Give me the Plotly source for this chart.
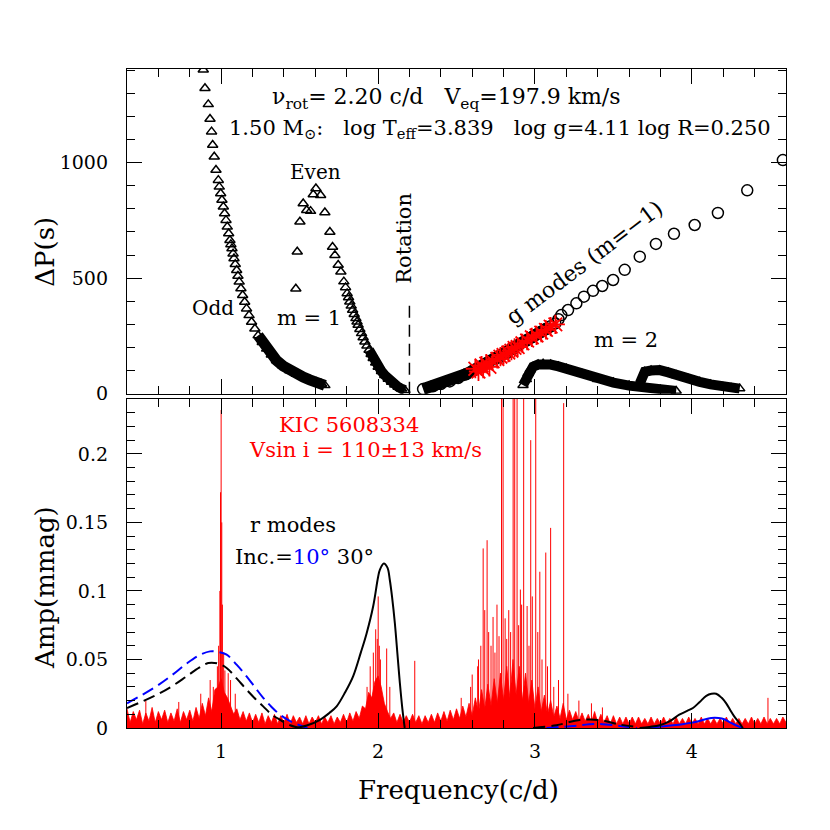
import numpy as np
import plotly.graph_objects as go

# ---------------- top panel: period spacings ----------------
# r modes, m = 1, odd
odd_freq = [0.886, 0.897, 0.918, 0.929, 0.939, 0.946, 0.956, 0.967, 0.982, 0.988,
            0.997, 1.005, 1.014, 1.022, 1.031, 1.039, 1.048, 1.056, 1.062, 1.069,
            1.076, 1.082, 1.090, 1.099, 1.107, 1.115, 1.126, 1.137, 1.150, 1.162,
            1.178, 1.194, 1.215, 1.236, 1.262, 1.290, 1.320, 1.353, 1.395, 1.438,
            1.480, 1.523, 1.565, 1.608, 1.640, 1.661]
odd_dp = [1402, 1322, 1252, 1189, 1134, 1076, 1025, 968, 924, 895,
          866, 838, 809, 780, 751, 722, 693, 664, 646, 628,
          606, 585, 560, 534, 509, 484, 455, 426, 397, 368,
          339, 310, 281, 252, 223, 194, 168, 144, 120, 100,
          85, 72, 60, 50, 42, 36]

# r modes, m = 1, even
even_freq = [1.476, 1.485, 1.502, 1.523, 1.545, 1.570, 1.587, 1.604, 1.634, 1.661,
             1.693, 1.710, 1.725, 1.746, 1.763, 1.782, 1.793, 1.803, 1.812, 1.820,
             1.829, 1.838, 1.848, 1.859, 1.866, 1.873, 1.884, 1.895, 1.905, 1.916,
             1.929, 1.943, 1.956, 1.969, 1.985, 2.001, 2.022, 2.043, 2.065, 2.086,
             2.107, 2.128, 2.150, 2.171]
even_dp = [454, 614, 744, 823, 794, 790, 862, 888, 859, 784,
           700, 635, 599, 557, 528, 485, 460, 434, 416, 398,
           380, 362, 344, 326, 311, 297, 279, 261, 243, 225,
           207, 189, 171, 153, 134, 116, 97, 80, 64, 51,
           39, 29, 21, 15]

# prograde g modes (m = -1)
gm_freq = [2.287, 2.35, 2.40, 2.457, 2.51, 2.56, 2.606, 2.65, 2.70, 2.745,
           2.776, 2.82, 2.86, 2.90, 2.946, 2.98, 3.01, 3.04, 3.07, 3.10,
           3.13, 3.15, 3.168, 3.211, 3.264, 3.312, 3.37, 3.429, 3.498, 3.572,
           3.668, 3.771, 3.886, 4.018, 4.166, 4.353, 4.58]
gm_dp = [20, 32, 42, 53, 68, 84, 100, 116, 133, 150,
         158, 176, 194, 212, 230, 244, 256, 268, 280, 292,
         304, 322, 340, 362, 391, 420, 445, 466, 492, 536,
         593, 648, 692, 730, 782, 880, 1011]

# observed modes
obs_freq = [2.62, 2.64, 2.66, 2.67, 2.69, 2.71, 2.73, 2.76, 2.78, 2.80, 2.83,
            2.85, 2.87, 2.89, 2.92, 2.95, 2.98, 3.01, 3.04, 3.07, 3.10, 3.13]
obs_dp = [108, 96, 122, 108, 130, 116, 140, 150, 160, 168, 178,
          186, 198, 202, 218, 230, 244, 252, 264, 276, 290, 300]

# m = 2 branches
m2a_freq = [2.924, 2.945, 2.956, 2.970, 2.988, 3.02, 3.052, 3.10, 3.15, 3.20,
            3.30, 3.40, 3.50, 3.60, 3.70, 3.80, 3.90]
m2a_dp = [37, 62, 88, 105, 117, 126, 130, 126, 118, 108,
          85, 63, 48, 35, 25, 17, 12]
m2b_freq = [3.668, 3.70, 3.74, 3.795, 3.85, 3.90, 3.975, 4.05, 4.12, 4.198, 4.25, 4.305]
m2b_dp = [44, 95, 100, 102, 92, 80, 65, 51, 40, 29, 25, 22]

nu_rot = 2.20

# ---------------- bottom panel: amplitude spectrum ----------------
noise_amp = [
    0.014, 0.004, 0.012, 0.006, 0.013, 0.003, 0.011, 0.005, 0.015, 0.004,
    0.012, 0.006, 0.013, 0.004, 0.011, 0.005, 0.014, 0.004, 0.012, 0.006,
    0.013, 0.005, 0.015, 0.007, 0.018, 0.009, 0.022, 0.012, 0.028, 0.030,
    0.036, 0.026, 0.022, 0.016, 0.010, 0.014, 0.006, 0.012, 0.005, 0.011,
    0.004, 0.010, 0.004, 0.011, 0.003, 0.009, 0.004, 0.010, 0.003, 0.009,
    0.004, 0.010, 0.003, 0.009, 0.004, 0.008, 0.003, 0.009, 0.003, 0.008,
    0.004, 0.009, 0.003, 0.008, 0.004, 0.009, 0.003, 0.008, 0.004, 0.010,
    0.004, 0.011, 0.005, 0.012, 0.007, 0.016, 0.014, 0.026, 0.022, 0.034,
    0.038, 0.030, 0.018, 0.012, 0.007, 0.011, 0.004, 0.010, 0.004, 0.009,
    0.004, 0.010, 0.004, 0.009, 0.003, 0.009, 0.004, 0.010, 0.004, 0.011,
    0.005, 0.012, 0.005, 0.013, 0.006, 0.014, 0.007, 0.016, 0.008, 0.018,
    0.009, 0.022, 0.011, 0.028, 0.014, 0.032, 0.016, 0.036, 0.018, 0.040,
    0.020, 0.045, 0.022, 0.050, 0.024, 0.045, 0.020, 0.040, 0.018, 0.035,
    0.014, 0.030, 0.012, 0.024, 0.010, 0.020, 0.008, 0.016, 0.007, 0.018,
    0.006, 0.013, 0.006, 0.012, 0.005, 0.011, 0.005, 0.010, 0.004, 0.012,
    0.004, 0.010, 0.004, 0.009, 0.003, 0.009, 0.003, 0.008, 0.003, 0.008,
    0.003, 0.008, 0.003, 0.008, 0.003, 0.007, 0.003, 0.008, 0.003, 0.007,
    0.003, 0.008, 0.003, 0.007, 0.003, 0.008, 0.003, 0.007, 0.003, 0.008,
    0.003, 0.007, 0.003, 0.008, 0.003, 0.007, 0.003, 0.007, 0.003, 0.007,
    0.003, 0.008, 0.003, 0.007, 0.003, 0.007, 0.003, 0.007, 0.003, 0.008,
    0.003, 0.007, 0.003, 0.008, 0.003, 0.007, 0.003, 0.007, 0.003, 0.008,
    0.004,
]
noise_freq = 0.40 + 0.02 * np.arange(len(noise_amp))

peak_freq = [0.52, 0.73, 0.87, 0.93, 0.95, 0.976, 0.984, 0.992, 0.996, 1.000,
             1.004, 1.008, 1.016, 1.024, 1.045, 1.06, 1.09,
             1.93, 1.95, 1.97, 1.985, 1.995, 2.001, 2.008, 2.015, 2.055, 2.075,
             2.234, 2.53, 2.59, 2.60, 2.635, 2.64, 2.655, 2.670, 2.680, 2.695,
             2.705, 2.72, 2.733, 2.745, 2.758, 2.771, 2.787, 2.797, 2.81, 2.82,
             2.833, 2.845, 2.861, 2.871, 2.886, 2.896, 2.907, 2.915, 2.928, 2.95,
             2.962, 2.973, 2.983, 3.005, 3.018, 3.031, 3.045, 3.069, 3.08, 3.10,
             3.12, 3.15, 3.183, 3.21, 3.28, 3.36, 3.43, 4.485]
peak_amp = [0.020, 0.019, 0.025, 0.035, 0.030, 0.045, 0.060, 0.100, 0.172, 0.232,
            0.150, 0.090, 0.055, 0.042, 0.040, 0.035, 0.025,
            0.030, 0.045, 0.055, 0.072, 0.065, 0.096, 0.060, 0.050, 0.058, 0.030,
            0.049, 0.022, 0.030, 0.039, 0.045, 0.050, 0.060, 0.131, 0.086, 0.137,
            0.070, 0.060, 0.081, 0.055, 0.090, 0.067, 0.300, 0.300, 0.080, 0.065,
            0.086, 0.070, 0.300, 0.300, 0.300, 0.075, 0.101, 0.090, 0.300, 0.089,
            0.060, 0.210, 0.096, 0.300, 0.070, 0.114, 0.050, 0.128, 0.045, 0.146,
            0.030, 0.035, 0.237, 0.025, 0.020, 0.018, 0.015, 0.022]

# r-mode models (black 30 deg, blue 10 deg)
odd30_freq = [0.40, 0.568, 0.68, 0.78, 0.86, 0.918, 0.98, 1.035, 1.10, 1.162,
              1.22, 1.268, 1.32, 1.375, 1.44, 1.50]
odd30_amp = [0.0146, 0.023, 0.030, 0.0377, 0.044, 0.0474, 0.047, 0.0438, 0.036, 0.028,
             0.021, 0.0158, 0.010, 0.006, 0.002, 0.0]
odd10_freq = [0.40, 0.568, 0.68, 0.78, 0.86, 0.929, 0.98, 1.035, 1.10, 1.162,
              1.22, 1.268, 1.32, 1.375, 1.44, 1.50, 1.55]
odd10_amp = [0.018, 0.029, 0.038, 0.047, 0.053, 0.0559, 0.0555, 0.0535, 0.046, 0.0377,
             0.029, 0.022, 0.0155, 0.0097, 0.005, 0.002, 0.0]
even30_freq = [1.481, 1.55, 1.63, 1.69, 1.736, 1.79, 1.841, 1.89, 1.927, 1.969,
               2.00, 2.012, 2.037, 2.06, 2.075, 2.09, 2.107, 2.125, 2.139, 2.155, 2.17]
even30_amp = [0.0, 0.002, 0.006, 0.011, 0.0158, 0.026, 0.0377, 0.055, 0.069, 0.0888,
              0.110, 0.1156, 0.120, 0.117, 0.108, 0.095, 0.0766, 0.052, 0.0328, 0.014, 0.0]
odd30b_freq = [2.988, 3.136, 3.285, 3.413, 3.54, 3.667]
odd30b_amp = [0.0, 0.002, 0.0058, 0.0058, 0.0025, 0.0005]
odd10b_freq = [3.073, 3.243, 3.39, 3.54, 3.65]
odd10b_amp = [0.0, 0.0015, 0.003, 0.0015, 0.0]
m2_30_freq = [3.667, 3.73, 3.795, 3.86, 3.92, 3.97, 4.007, 4.05, 4.092, 4.125,
              4.155, 4.19, 4.219, 4.245, 4.27, 4.30, 4.325]
m2_30_amp = [0.0, 0.0008, 0.002, 0.005, 0.0097, 0.0125, 0.0146, 0.019, 0.0235, 0.025,
             0.025, 0.022, 0.018, 0.013, 0.0085, 0.004, 0.0]
m2_10_freq = [3.70, 3.80, 3.88, 3.95, 4.007, 4.06, 4.123, 4.17, 4.21, 4.245, 4.28, 4.325]
m2_10_amp = [0.0, 0.001, 0.002, 0.003, 0.004, 0.0055, 0.0073, 0.0073, 0.0062, 0.004, 0.002, 0.0]

FONT = "DejaVu Serif"
fig = go.Figure()


def band(xs, ys, limit, width, symbol, size):
    """markers for every mode plus a thick line where the modes crowd together"""
    bx = [x for x, y in zip(xs, ys) if y <= limit]
    by = [y for y in ys if y <= limit]
    fig.add_trace(go.Scatter(x=bx, y=by, mode="lines", xaxis="x2", yaxis="y2",
                             line=dict(color="black", width=width), showlegend=False))
    fig.add_trace(go.Scatter(x=xs, y=ys, mode="markers", xaxis="x2", yaxis="y2",
                             marker=dict(symbol=symbol, size=size, color="black",
                                         line=dict(color="black", width=1.5)),
                             showlegend=False))


band(odd_freq, odd_dp, 260, 11, "triangle-up-open", 9)
band(even_freq, even_dp, 200, 10, "triangle-up-open", 9)
band(m2a_freq, m2a_dp, 2000, 10, "triangle-up-open", 9)
band(m2b_freq, m2b_dp, 2000, 10, "triangle-up-open", 9)
band(gm_freq, gm_dp, 300, 12, "circle-open", 11)

fig.add_trace(go.Scatter(x=obs_freq, y=obs_dp, mode="markers", xaxis="x2", yaxis="y2",
                         marker=dict(symbol="asterisk-open", size=16, color="red",
                                     line=dict(color="red", width=1.8)),
                         showlegend=False))

fig.add_trace(go.Scatter(x=[nu_rot, nu_rot], y=[0, 384], mode="lines", xaxis="x2", yaxis="y2",
                         line=dict(color="black", width=1.5, dash="12px,7px"), showlegend=False))

# spectrum
fig.add_trace(go.Scatter(x=noise_freq, y=noise_amp, mode="lines", fill="tozeroy",
                         fillcolor="red", line=dict(color="red", width=0.8), showlegend=False))
sx, sy = [], []
for f, a in zip(peak_freq, peak_amp):
    sx += [f, f, None]
    sy += [0, a, None]
fig.add_trace(go.Scatter(x=sx, y=sy, mode="lines", line=dict(color="red", width=1),
                         showlegend=False))

for xs, ys, col, dash in [
    (odd10_freq, odd10_amp, "blue", "12px,6px"),
    (odd30_freq, odd30_amp, "black", "12px,6px"),
    (even30_freq, even30_amp, "black", "solid"),
    (odd10b_freq, odd10b_amp, "blue", "12px,6px"),
    (odd30b_freq, odd30b_amp, "black", "12px,6px"),
    (m2_10_freq, m2_10_amp, "blue", "solid"),
    (m2_30_freq, m2_30_amp, "black", "solid"),
]:
    fig.add_trace(go.Scatter(x=xs, y=ys, mode="lines", line=dict(color=col, width=2, dash=dash),
                             line_shape="spline", showlegend=False))

axis_common = dict(showline=True, linecolor="black", linewidth=1.3, mirror="ticks",
                   ticks="inside", ticklen=15, tickwidth=1.3, tickcolor="black",
                   showgrid=False, zeroline=False,
                   tickfont=dict(family=FONT, size=19, color="black"))

# the page adds an 8px body margin, so the figure is 822px and margins are reduced by 8
fig.update_layout(
    width=822, height=822,
    margin=dict(l=119, r=44, t=61, b=102),
    plot_bgcolor="white", paper_bgcolor="white",
    xaxis=dict(axis_common, range=[0.4, 4.6], tick0=0, dtick=1, anchor="y", domain=[0, 1],
               minor=dict(ticks="inside", ticklen=8, dtick=0.2, tickwidth=1.2, tickcolor="black"),
               ticklabelstandoff=6),
    xaxis2=dict(axis_common, range=[0.4, 4.6], tick0=0, dtick=1, anchor="y2", matches="x",
                showticklabels=False,
                minor=dict(ticks="inside", ticklen=8, dtick=0.2, tickwidth=1.2, tickcolor="black")),
    yaxis=dict(axis_common, range=[0, 0.24], tick0=0, dtick=0.05, domain=[0, 0.4992],
               anchor="x",
               minor=dict(ticks="inside", ticklen=8, dtick=0.01, tickwidth=1.2, tickcolor="black"),
               ticklabelstandoff=14),
    yaxis2=dict(axis_common, range=[0, 1405], tick0=0, dtick=500, domain=[0.5073, 1],
                anchor="x2",
                minor=dict(ticks="inside", ticklen=8, dtick=100, tickwidth=1.2, tickcolor="black"),
                ticklabelstandoff=14),
)

ann_font = dict(family=FONT, size=21, color="black")
nb = "\u00a0"
top_notes = [
    (2.438, 1277, "\u03bd<sub>rot</sub>=" + nb + "2.20" + nb + "c/d" + nb * 3 + "V<sub>eq</sub>=197.9" + nb + "km/s", 0, 22),
    (2.776, 1147, "1.50" + nb + "M<sub>\u2299</sub>:" + nb * 3 + "log" + nb + "T<sub>eff</sub>=3.839" + nb * 3
     + "log" + nb + "g=4.11" + nb + "log" + nb + "R=0.250", 0, 21),
    (1.604, 960, "Even", 0, 20),
    (0.948, 371, "Odd", 0, 20),
    (1.559, 327, "m" + nb + "=" + nb + "1", 0, 21),
    (2.164, 674, "Rotation", -90, 21),
    (3.317, 566, "g" + nb + "modes" + nb + "(m=\u22121)", -37, 22),
    (3.578, 232, "m" + nb + "=" + nb + "2", 0, 21),
]
for x, y, t, ang, sz in top_notes:
    fig.add_annotation(x=x, y=y, xref="x2", yref="y2", text=t, showarrow=False,
                       xanchor="center", yanchor="middle", textangle=ang,
                       font=dict(family=FONT, size=sz, color="black"))

bottom_notes = [
    (1.814, 0.2207, "KIC 5608334", "red"),
    (1.919, 0.2031, "Vsin" + nb + "i" + nb + "=" + nb + "110\u00b113" + nb + "km/s", "red"),
    (1.457, 0.1484, "r" + nb + "modes", "black"),
    (1.534, 0.125, "Inc.=<span style='color:blue'>10\u00b0</span>" + nb + "30\u00b0", "black"),
]
for x, y, t, c in bottom_notes:
    fig.add_annotation(x=x, y=y, xref="x", yref="y", text=t, showarrow=False,
                       xanchor="center", yanchor="middle",
                       font=dict(family=FONT, size=21, color=c))

title_font = dict(family=FONT, size=26, color="black")
for x, y, t, ang in [(-0.1244, 0.7228, "\u0394P(s)", -90),
                     (-0.1244, 0.2124, "Amp(mmag)", -90),
                     (0.5023, -0.094, "Frequency(c/d)", 0)]:
    fig.add_annotation(x=x, y=y, xref="paper", yref="paper", text=t, textangle=ang,
                       xanchor="center", yanchor="middle", showarrow=False, font=title_font)

fig.write_html("out.html")
